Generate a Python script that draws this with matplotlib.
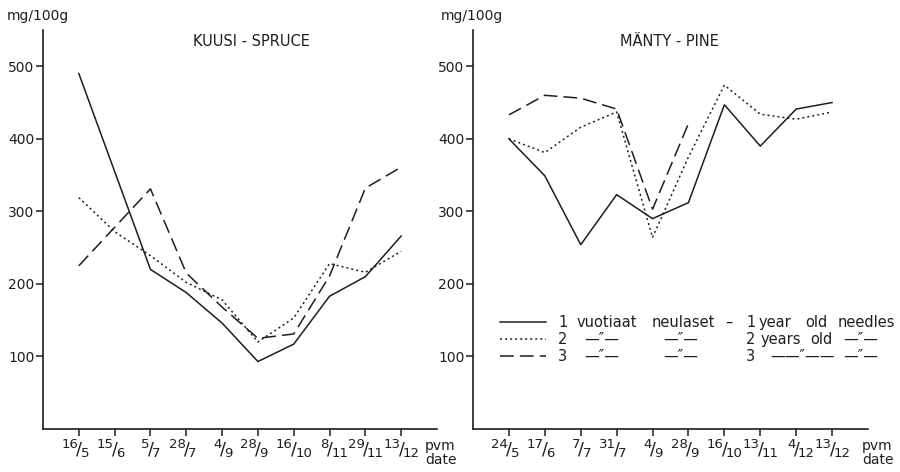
import numpy as np
import matplotlib
matplotlib.use("Agg")
import matplotlib.pyplot as plt
from matplotlib.lines import Line2D

nan = np.nan

# ---------------- data ----------------
spruce_dates = ["16/5", "15/6", "5/7", "28/7", "4/9", "28/9", "16/10", "8/11", "29/11", "13/12"]
spruce_1yr = [490, nan, 220, 188, 146, 93, 117, 183, 210, 266]
spruce_2yr = [319, 272, 239, 202, 178, 120, 153, 228, 216, 245]
spruce_3yr = [225, 278, 331, 215, 168, 125, 131, 211, 332, 361]

pine_dates = ["24/5", "17/6", "7/7", "31/7", "4/9", "28/9", "16/10", "13/11", "4/12", "13/12"]
pine_1yr = [400, 349, 254, 323, 290, 312, 447, 390, 441, 450]
pine_2yr = [400, 381, 416, 437, 264, 375, 474, 434, 427, 437]
pine_3yr = [433, 460, 456, 441, 303, 421, nan, nan, nan, nan]

y_ticks = [100, 200, 300, 400, 500]
titles = ["KUUSI - SPRUCE", "MÄNTY - PINE"]
y_label = "mg/100g"
x_label = ["pvm", "date"]

# ---------------- style ----------------
W, H = 900, 472
INK = "#1e1e1e"
styles = [
    dict(ls="-", lw=1.1),
    dict(ls=(0, (1.3, 2.0)), lw=1.1),
    dict(ls=(0, (9, 4)), lw=1.1),
]
plt.rcParams["font.family"] = ["DejaVu Sans"]

fig = plt.figure(figsize=(W / 100, H / 100), dpi=100)


def F(px, py):
    return px / W, 1 - py / H


def make_axes(x0, x1, ytop, ybot):
    return fig.add_axes([x0 / W, 1 - ybot / H, (x1 - x0) / W, (ybot - ytop) / H])


axL = make_axes(43, 437, 30, 429)
axR = make_axes(473, 868, 30, 429)

panels = [
    (axL, spruce_dates, [spruce_1yr, spruce_2yr, spruce_3yr]),
    (axR, pine_dates, [pine_1yr, pine_2yr, pine_3yr]),
]

for ax, dates, series in panels:
    x = np.arange(len(dates))
    for vals, st in zip(series, styles):
        v = np.asarray(vals, dtype=float)
        m = ~np.isnan(v)
        ax.plot(x[m], v[m], color=INK, solid_joinstyle="miter", **st)
    ax.set_xlim(-1, len(dates))
    ax.set_ylim(0, 550)
    for s in ["top", "right"]:
        ax.spines[s].set_visible(False)
    for s in ["left", "bottom"]:
        ax.spines[s].set_color(INK)
        ax.spines[s].set_linewidth(1.2)
    ax.set_yticks(y_ticks)
    ax.set_yticklabels([str(t) for t in y_ticks])
    ax.set_xticks(x)
    ax.set_xticklabels([])
    ax.tick_params(axis="both", direction="out", length=5, width=1.1, color=INK,
                   labelsize=10, labelcolor=INK, pad=1)
    # fraction-style date labels
    for i, d in enumerate(dates):
        num, den = d.split("/")
        ax.annotate(num, xy=(i, 0), xycoords=("data", "axes fraction"),
                    xytext=(-0.6, -11.5), textcoords="offset points",
                    ha="right", va="center", fontsize=9.5, color=INK)
        ax.annotate("/", xy=(i, 0), xycoords=("data", "axes fraction"),
                    xytext=(0.3, -14.5), textcoords="offset points",
                    ha="center", va="center", fontsize=12.5, color=INK)
        ax.annotate(den, xy=(i, 0), xycoords=("data", "axes fraction"),
                    xytext=(1.2, -17.8), textcoords="offset points",
                    ha="left", va="center", fontsize=9.5, color=INK)

# titles and axis labels
fig.text(*F(251, 42), titles[0], ha="center", va="center", fontsize=10.5, color=INK)
fig.text(*F(669, 42), titles[1], ha="center", va="center", fontsize=10.5, color=INK)
fig.text(*F(7, 16), y_label, ha="left", va="center", fontsize=10, color=INK)
fig.text(*F(441, 16), y_label, ha="left", va="center", fontsize=10, color=INK)
for px in (425, 862):
    fig.text(*F(px, 446), x_label[0], ha="left", va="center", fontsize=10, color=INK)
    fig.text(*F(px, 460), x_label[1], ha="left", va="center", fontsize=10, color=INK)

# ---------------- legend (drawn by hand, as in the original) ----------------
rows_y = [322, 339, 356]
for py, st in zip(rows_y, styles):
    x0, y0 = F(500, py)
    x1, _ = F(546, py)
    fig.add_artist(Line2D([x0, x1], [y0, y0], color=INK, **st))

ditto = "—\u2033—"
r1, r2, r3 = rows_y
legend_texts = [
    (558, r1, "1"), (577, r1, "vuotiaat"), (652, r1, "neulaset"), (725, r1, "–"),
    (746, r1, "1"), (759, r1, "year"), (805, r1, "old"), (838, r1, "needles"),
    (558, r2, "2"), (584, r2, ditto), (663, r2, ditto),
    (746, r2, "2"), (761, r2, "years"), (810, r2, "old"), (843, r2, ditto),
    (558, r3, "3"), (584, r3, ditto), (663, r3, ditto),
    (746, r3, "3"), (770, r3, "——\u2033——"), (843, r3, ditto),
]
for px, py, t in legend_texts:
    fig.text(*F(px, py + 5), t, ha="left", va="baseline", fontsize=10.5, color=INK)

fig.savefig("out.png", dpi=100)
